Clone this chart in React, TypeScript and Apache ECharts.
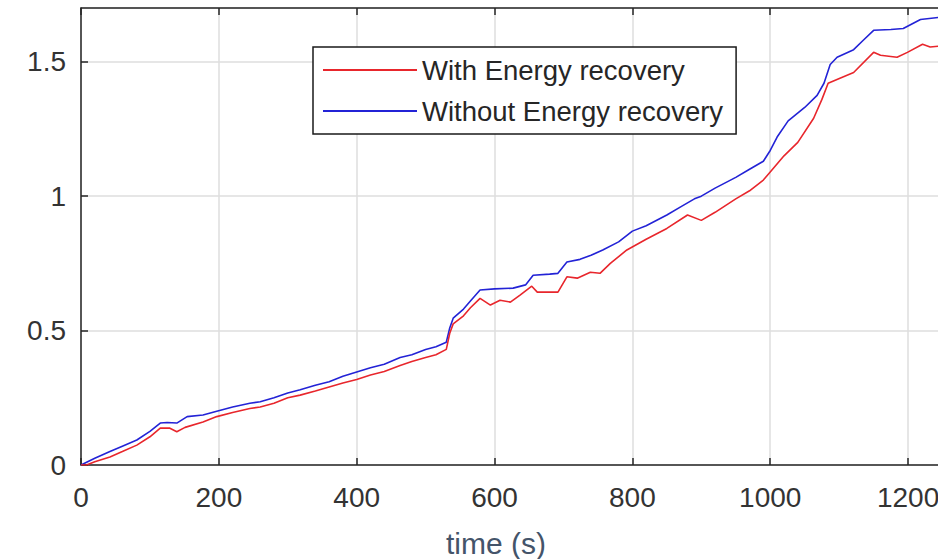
import React, { useEffect, useRef } from "react";
import * as echarts from "echarts";

const timeWithout = [0, 20, 42, 60, 81, 100, 115, 125, 139, 154, 177, 197, 220, 245, 260, 280, 300, 318, 340, 360, 380, 400, 420, 440, 463, 480, 500, 515, 530, 535, 540, 555, 565, 579, 600, 627, 645, 656, 680, 692, 705, 724, 740, 757, 780, 800, 820, 850, 870, 890, 900, 920, 950, 970, 990, 1000, 1010, 1026, 1050, 1068, 1078, 1087, 1097, 1121, 1135, 1150, 1175, 1193, 1218, 1244];
const valuesWithout = [0, 0.025, 0.05, 0.07, 0.093, 0.125, 0.156, 0.158, 0.156, 0.18, 0.186, 0.2, 0.216, 0.23, 0.235, 0.25, 0.268, 0.28, 0.297, 0.31, 0.33, 0.346, 0.362, 0.375, 0.4, 0.41, 0.43, 0.44, 0.457, 0.51, 0.546, 0.58, 0.61, 0.651, 0.655, 0.658, 0.67, 0.706, 0.71, 0.713, 0.755, 0.765, 0.78, 0.8, 0.83, 0.87, 0.89, 0.93, 0.96, 0.99, 1.0, 1.03, 1.07, 1.1, 1.13, 1.17, 1.22, 1.28, 1.33, 1.375, 1.42, 1.49, 1.517, 1.545, 1.58, 1.617, 1.62, 1.624, 1.657, 1.665];

const timeWith = [0, 8, 20, 42, 60, 81, 100, 115, 129, 139, 151, 177, 197, 220, 245, 260, 280, 300, 318, 340, 360, 380, 400, 420, 440, 463, 480, 500, 515, 530, 535, 540, 555, 565, 579, 594, 608, 623, 637, 654, 662, 692, 705, 720, 739, 753, 768, 792, 820, 850, 880, 900, 920, 950, 970, 990, 1000, 1020, 1040, 1063, 1075, 1084, 1102, 1121, 1150, 1160, 1184, 1199, 1221, 1232, 1244];
const valuesWith = [0, 0, 0.012, 0.03, 0.05, 0.074, 0.105, 0.137, 0.137, 0.124, 0.14, 0.16, 0.18, 0.195, 0.21, 0.216, 0.23, 0.25, 0.26, 0.275, 0.29, 0.305, 0.318, 0.335, 0.348, 0.37, 0.385, 0.4, 0.41, 0.43, 0.49, 0.525, 0.555, 0.585, 0.62, 0.595, 0.613, 0.606, 0.632, 0.665, 0.643, 0.643, 0.7, 0.695, 0.717, 0.713, 0.75, 0.8, 0.84, 0.88, 0.93, 0.91, 0.94, 0.99, 1.02, 1.06, 1.09, 1.15, 1.2, 1.29, 1.36, 1.42, 1.44, 1.46, 1.535, 1.524, 1.517, 1.535, 1.565, 1.555, 1.558];

const seriesNames = ["With Energy recovery", "Without Energy recovery"];
const xLabel = "time (s)";

const FONT = "'Liberation Sans', Arial, sans-serif";
const AXIS_COLOR = "#262626";

export default function App() {
  const ref = useRef<HTMLDivElement>(null);
  useEffect(() => {
    document.body.style.margin = "0";
    const chart = echarts.init(ref.current!, null, { renderer: "svg" });
    const pairs = (t: number[], v: number[]) => t.map((x, i) => [x, v[i]]);
    const xCommon = {
      type: "value" as const,
      min: 0,
      max: 1300,
      interval: 200,
    };
    chart.setOption({
      animation: false,
      backgroundColor: "#ffffff",
      grid: { left: 81, top: 8, width: 896, height: 457, outerBoundsMode: "none", containLabel: false },
      legend: {
        orient: "vertical",
        left: 313,
        top: 47,
        padding: [9, 13, 9, 10],
        itemWidth: 94,
        itemHeight: 2,
        itemGap: 13,
        icon: "rect",
        borderColor: "#1a1a1a",
        borderWidth: 1.5,
        backgroundColor: "#ffffff",
        textStyle: { fontFamily: FONT, fontSize: 27.5, color: "#262626", lineHeight: 27 },
        data: seriesNames,
      },
      xAxis: [
        {
          ...xCommon,
          position: "bottom",
          axisLine: { show: true, onZero: false, lineStyle: { color: AXIS_COLOR, width: 1.5 } },
          axisTick: { show: true, inside: true, length: 7, lineStyle: { color: AXIS_COLOR, width: 1.5 } },
          axisLabel: {
            fontFamily: FONT,
            fontSize: 28,
            color: "#333333",
            margin: 18,
            showMaxLabel: false,
            formatter: (v: number) => String(v),
          },
          splitLine: { show: true, lineStyle: { color: "#dedede", width: 1.5 } },
        },
        {
          ...xCommon,
          position: "top",
          axisLine: { show: true, onZero: false, lineStyle: { color: AXIS_COLOR, width: 1.5 } },
          axisTick: { show: true, inside: true, length: 7, lineStyle: { color: AXIS_COLOR, width: 1.5 } },
          axisLabel: { show: false },
          splitLine: { show: false },
        },
      ],
      yAxis: {
        type: "value",
        min: 0,
        max: 1.7,
        interval: 0.5,
        axisLine: { show: true, onZero: false, lineStyle: { color: AXIS_COLOR, width: 1.5 } },
        axisTick: { show: true, inside: true, length: 7, lineStyle: { color: AXIS_COLOR, width: 1.5 } },
        axisLabel: {
          fontFamily: FONT,
          fontSize: 28,
          color: "#333333",
          margin: 15,
          showMaxLabel: false,
          formatter: (v: number) => String(v),
        },
        splitLine: { show: true, lineStyle: { color: "#dedede", width: 1.5 } },
      },
      graphic: [
        {
          type: "text",
          x: 496,
          y: 543,
          style: {
            text: xLabel,
            fontFamily: FONT,
            fontSize: 30,
            fill: "#44546a",
            textAlign: "center",
            textVerticalAlign: "middle",
          },
        },
      ],
      series: [
        {
          name: seriesNames[0],
          type: "line",
          data: pairs(timeWith, valuesWith),
          symbol: "none",
          lineStyle: { color: "#e8262c", width: 1.6 },
          itemStyle: { color: "#e8262c" },
          z: 3,
        },
        {
          name: seriesNames[1],
          type: "line",
          data: pairs(timeWithout, valuesWithout),
          symbol: "none",
          lineStyle: { color: "#2323d6", width: 1.6 },
          itemStyle: { color: "#2323d6" },
          z: 2,
        },
      ],
    });
    return () => chart.dispose();
  }, []);
  return (
    <div
      ref={ref}
      style={{ position: "fixed", left: 0, top: 0, width: 938, height: 559, overflow: "hidden" }}
    />
  );
}
